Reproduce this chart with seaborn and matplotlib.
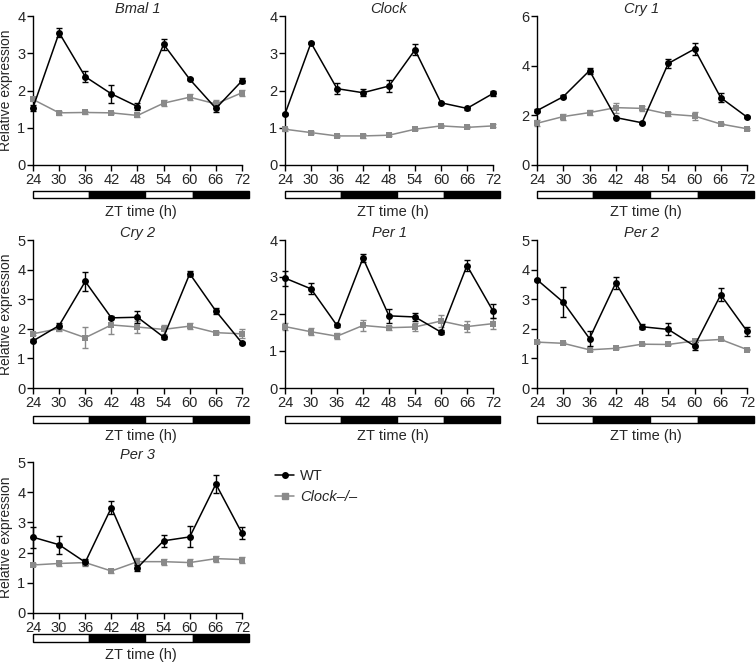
import numpy as np
import pandas as pd
import matplotlib
matplotlib.use('Agg')
import matplotlib.pyplot as plt
from matplotlib.patches import Rectangle
import seaborn as sns

# time points (ZT, h)
zt = [24, 30, 36, 42, 48, 54, 60, 66, 72]

genes = ['Bmal 1', 'Clock', 'Cry 1', 'Cry 2', 'Per 1', 'Per 2', 'Per 3']
yMax = [4, 4, 6, 5, 4, 5, 5]
yStep = [1, 1, 2, 1, 1, 1, 1]

# wild type means / sem
wtBmal1 = [1.54, 3.55, 2.37, 1.91, 1.57, 3.24, 2.30, 1.52, 2.26]
wtBmal1Err = [0.08, 0.12, 0.15, 0.25, 0.10, 0.15, 0.03, 0.10, 0.07]
wtClock = [1.37, 3.28, 2.05, 1.94, 2.12, 3.09, 1.67, 1.52, 1.92]
wtClockErr = [0.03, 0.03, 0.15, 0.10, 0.15, 0.15, 0.03, 0.05, 0.06]
wtCry1 = [2.19, 2.75, 3.80, 1.91, 1.70, 4.09, 4.67, 2.71, 1.93]
wtCry1Err = [0.05, 0.05, 0.12, 0.03, 0.03, 0.18, 0.25, 0.18, 0.05]
wtCry2 = [1.59, 2.11, 3.60, 2.37, 2.39, 1.72, 3.86, 2.60, 1.52]
wtCry2Err = [0.05, 0.10, 0.33, 0.05, 0.20, 0.05, 0.08, 0.10, 0.03]
wtPer1 = [2.97, 2.68, 1.69, 3.51, 1.95, 1.92, 1.51, 3.31, 2.08]
wtPer1Err = [0.20, 0.15, 0.03, 0.10, 0.18, 0.10, 0.05, 0.15, 0.18]
wtPer2 = [3.66, 2.90, 1.67, 3.55, 2.07, 1.98, 1.42, 3.15, 1.92]
wtPer2Err = [0.03, 0.50, 0.25, 0.20, 0.08, 0.20, 0.15, 0.22, 0.15]
wtPer3 = [2.51, 2.26, 1.68, 3.49, 1.50, 2.39, 2.52, 4.27, 2.64]
wtPer3Err = [0.35, 0.30, 0.10, 0.22, 0.10, 0.20, 0.35, 0.30, 0.20]

# Clock-/- means / sem
koBmal1 = [1.76, 1.40, 1.41, 1.40, 1.33, 1.66, 1.82, 1.64, 1.94]
koBmal1Err = [0.05, 0.05, 0.05, 0.03, 0.05, 0.08, 0.08, 0.10, 0.08]
koClock = [0.96, 0.87, 0.78, 0.78, 0.80, 0.96, 1.05, 1.01, 1.05]
koClockErr = [0.04, 0.03, 0.03, 0.05, 0.03, 0.03, 0.03, 0.03, 0.04]
koCry1 = [1.68, 1.95, 2.11, 2.31, 2.28, 2.05, 1.97, 1.65, 1.46]
koCry1Err = [0.12, 0.12, 0.10, 0.20, 0.10, 0.08, 0.15, 0.05, 0.05]
koCry2 = [1.83, 2.01, 1.70, 2.13, 2.06, 1.98, 2.09, 1.87, 1.83]
koCry2Err = [0.05, 0.10, 0.35, 0.30, 0.20, 0.15, 0.10, 0.05, 0.15]
koPer1 = [1.66, 1.52, 1.40, 1.69, 1.63, 1.65, 1.81, 1.66, 1.74]
koPer1Err = [0.10, 0.10, 0.08, 0.15, 0.05, 0.12, 0.15, 0.15, 0.15]
koPer2 = [1.55, 1.51, 1.29, 1.34, 1.48, 1.47, 1.59, 1.64, 1.30]
koPer2Err = [0.03, 0.03, 0.03, 0.03, 0.03, 0.03, 0.03, 0.03, 0.03]
koPer3 = [1.59, 1.64, 1.67, 1.39, 1.70, 1.70, 1.67, 1.80, 1.77]
koPer3Err = [0.05, 0.08, 0.10, 0.08, 0.12, 0.10, 0.12, 0.10, 0.10]

wtMeans = [wtBmal1, wtClock, wtCry1, wtCry2, wtPer1, wtPer2, wtPer3]
wtErrs = [wtBmal1Err, wtClockErr, wtCry1Err, wtCry2Err, wtPer1Err, wtPer2Err, wtPer3Err]
koMeans = [koBmal1, koClock, koCry1, koCry2, koPer1, koPer2, koPer3]
koErrs = [koBmal1Err, koClockErr, koCry1Err, koCry2Err, koPer1Err, koPer2Err, koPer3Err]

# light / dark bar (fraction of bar width), white = light
lightDark = [(0.0, 0.259, 'white'), (0.259, 0.519, 'black'),
             (0.519, 0.741, 'white'), (0.741, 1.0, 'black')]

sns.set_style('ticks')
plt.rcParams['font.family'] = ['Liberation Sans', 'DejaVu Sans']

W, H = 756, 665
fig = plt.figure(figsize=(W / 100, H / 100), dpi=100)

# axes placement in pixels: (left, right) per column, (top, bottom, barTop, barBottom, zt label) per row
colPx = [(33, 242), (285, 493), (537, 747)]
rowPx = [(16, 165, 191, 198, 212), (240, 388, 416, 423, 436), (462, 613, 634, 642, 655)]

wtColor = 'black'
koColor = '#8a8a8a'


def pxAxes(x0, x1, y0, y1):
    return fig.add_axes([x0 / W, 1 - y1 / H, (x1 - x0) / W, (y1 - y0) / H])


for i, gene in enumerate(genes):
    r, c = divmod(i, 3)
    x0, x1 = colPx[c]
    top, bot, bTop, bBot, zLab = rowPx[r]
    ax = pxAxes(x0, x1, top, bot)

    df = pd.DataFrame({'ZT': zt * 2,
                       'expr': wtMeans[i] + koMeans[i],
                       'genotype': ['WT'] * len(zt) + ['Clock-/-'] * len(zt)})
    for geno, mean, err, col, mk in [('Clock-/-', koMeans[i], koErrs[i], koColor, 's'),
                                      ('WT', wtMeans[i], wtErrs[i], wtColor, 'o')]:
        eb = ax.errorbar(zt, mean, yerr=err, fmt='none', ecolor=col, elinewidth=1,
                         capsize=2.5, capthick=1, zorder=2)
        for art in eb.lines[1] + eb.lines[2]:
            art.set_clip_on(False)
        sns.lineplot(data=df[df['genotype'] == geno], x='ZT', y='expr', ax=ax,
                     color=col, marker=mk, markersize=5, markeredgewidth=0,
                     linewidth=1.1, legend=False, zorder=3, clip_on=False)

    ax.set_xlim(24, 72)
    ax.set_ylim(0, yMax[i])
    ax.set_xticks(zt)
    ax.set_yticks(np.arange(0, yMax[i] + 1, yStep[i]))
    ax.tick_params(labelsize=10.5, length=4, width=1, pad=1.5, color='black')
    for s in ['top', 'right']:
        ax.spines[s].set_visible(False)
    for s in ['left', 'bottom']:
        ax.spines[s].set_linewidth(1)
        ax.spines[s].set_color('black')
    ax.set_xlabel('')
    ax.set_ylabel('Relative expression' if c == 0 else '', fontsize=10, labelpad=3)
    ax.set_title(gene, fontsize=10.5, style='italic', pad=1)

    # light/dark bar
    bx = pxAxes(x0, x1 + 7, bTop, bBot)
    for a, b, col in lightDark:
        bx.add_patch(Rectangle((a, 0), b - a, 1, facecolor=col, edgecolor='black',
                               linewidth=1, clip_on=False))
    bx.set_xlim(0, 1)
    bx.set_ylim(0, 1)
    bx.axis('off')
    fig.text((x0 + x1 + 7) / 2 / W, 1 - zLab / H, 'ZT time (h)', ha='center', va='center',
             fontsize=10.5)

# legend
fig.legend(handles=[plt.Line2D([], [], color=wtColor, marker='o', markersize=4, linewidth=1.1),
                    plt.Line2D([], [], color=koColor, marker='s', markersize=4, linewidth=1.1)],
           labels=['WT', 'Clock\u2013/\u2013'], loc='upper left',
           bbox_to_anchor=(262 / W, 1 - 456 / H), frameon=False, fontsize=10.5,
           handlelength=1.3, handletextpad=0.4, labelspacing=0.5)
leg = fig.legends[0]
leg.get_texts()[1].set_style('italic')

fig.savefig('out.png', dpi=100)
